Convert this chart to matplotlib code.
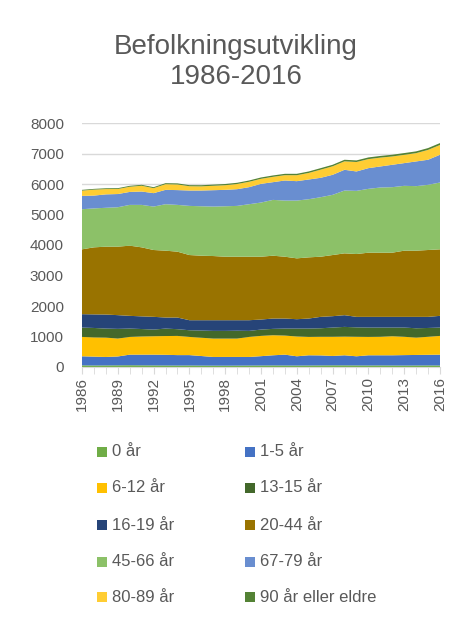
import matplotlib
matplotlib.use("Agg")
import matplotlib.pyplot as plt
from matplotlib.patches import Rectangle
import numpy as np

years = list(range(1986, 2017))

age_0 = [55, 50, 52, 55, 58, 55, 52, 50, 48, 50, 47, 45, 44, 46, 48, 50, 52, 50, 48, 50, 52, 55, 54, 52, 50, 52, 50, 48, 50, 52, 50]
age_1_5 = [296, 290, 277, 290, 347, 350, 353, 350, 342, 340, 313, 284, 286, 284, 281, 305, 332, 355, 303, 334, 328, 307, 330, 299, 334, 332, 334, 342, 345, 348, 355]
age_6_12 = [635, 630, 635, 587, 581, 595, 603, 615, 629, 596, 600, 603, 602, 602, 657, 665, 657, 625, 649, 602, 610, 628, 611, 639, 602, 606, 624, 600, 569, 590, 614]
age_13_15 = [307, 310, 296, 318, 274, 245, 219, 245, 221, 219, 235, 252, 252, 258, 198, 207, 209, 230, 260, 274, 280, 303, 320, 310, 307, 303, 285, 303, 306, 290, 274]
age_16_19 = [439, 445, 460, 450, 417, 415, 418, 362, 382, 329, 339, 350, 350, 344, 350, 329, 339, 329, 307, 329, 374, 373, 384, 344, 351, 351, 351, 351, 374, 364, 384]
age_20_44 = [2126, 2198, 2225, 2245, 2301, 2263, 2191, 2192, 2159, 2137, 2115, 2104, 2082, 2082, 2082, 2060, 2060, 2027, 1995, 2006, 1972, 2005, 2027, 2060, 2104, 2104, 2104, 2170, 2170, 2192, 2181]
age_45_66 = [1315, 1277, 1275, 1293, 1337, 1392, 1424, 1523, 1534, 1611, 1621, 1622, 1654, 1666, 1721, 1776, 1830, 1841, 1895, 1906, 1951, 1973, 2060, 2071, 2093, 2137, 2148, 2126, 2116, 2137, 2191]
age_67_79 = [437, 420, 440, 433, 425, 438, 440, 471, 485, 504, 516, 537, 538, 548, 559, 613, 581, 658, 636, 647, 636, 657, 680, 636, 679, 690, 734, 745, 810, 822, 910]
age_80_89 = [173, 195, 173, 164, 170, 190, 164, 186, 185, 141, 137, 145, 152, 170, 177, 165, 175, 174, 195, 215, 267, 279, 277, 310, 296, 290, 273, 271, 272, 323, 321]
age_90 = [25, 25, 27, 28, 30, 30, 32, 33, 35, 35, 37, 38, 40, 40, 42, 44, 45, 45, 46, 48, 50, 50, 52, 52, 55, 55, 56, 58, 58, 60, 62]

labels = ["0 år", "1-5 år", "6-12 år", "13-15 år", "16-19 år", "20-44 år",
          "45-66 år", "67-79 år", "80-89 år", "90 år eller eldre"]
colors = ["#70AD47", "#4472C4", "#FFC000", "#43682B", "#264478", "#997300",
          "#8CC168", "#698ED0", "#FFCD33", "#548235"]
series = [age_0, age_1_5, age_6_12, age_13_15, age_16_19, age_20_44,
          age_45_66, age_67_79, age_80_89, age_90]
xticks = list(range(1986, 2017, 3))

plt.rcParams['font.family'] = ['Liberation Sans', 'DejaVu Sans']
W, H = 451, 619
fig = plt.figure(figsize=(W / 100, H / 100), dpi=100)
ax = fig.add_axes([82 / W, 1 - 367 / H, (440 - 82) / W, (367 - 123) / H])

ax.stackplot(years, *series, colors=colors, linewidth=0, zorder=2)

ax.set_xlim(1986, 2016)
ax.set_ylim(0, 8000)
ax.set_yticks(range(0, 8001, 1000))
ax.yaxis.grid(True, color="#D9D9D9", linewidth=1, zorder=0)
ax.set_axisbelow(True)
ax.set_xticks(years, minor=True)
ax.set_xticks(xticks)
ax.set_xticklabels([str(y) for y in xticks], rotation=90)
for s in ["left", "right", "top"]:
    ax.spines[s].set_visible(False)
ax.spines["bottom"].set_color("#D9D9D9")
ax.spines["bottom"].set_zorder(3)
ax.tick_params(axis="y", length=0, pad=13, labelsize=11, labelcolor="#595959")
ax.tick_params(axis="x", which="both", length=5, color="#D9D9D9", direction="out",
               pad=2, labelsize=11, labelcolor="#595959")

fig.text(236 / W, 1 - 62 / H, "Befolkningsutvikling\n1986-2016", ha="center", va="center",
         fontsize=20, color="#595959", linespacing=1.2, multialignment="center")

rows_y = [452, 488, 525, 562, 597]
cols_x = [97, 245]
for i, (lab, col) in enumerate(zip(labels, colors)):
    r, c = divmod(i, 2)
    x0 = cols_x[c]
    yc = rows_y[r]
    fig.patches.append(Rectangle((x0 / W, 1 - (yc + 5) / H), 10 / W, 10 / H,
                                 transform=fig.transFigure, facecolor=col, edgecolor="none"))
    fig.text((x0 + 15) / W, 1 - yc / H, lab, ha="left", va="center", fontsize=12, color="#595959")

fig.savefig("out.png", dpi=100)
